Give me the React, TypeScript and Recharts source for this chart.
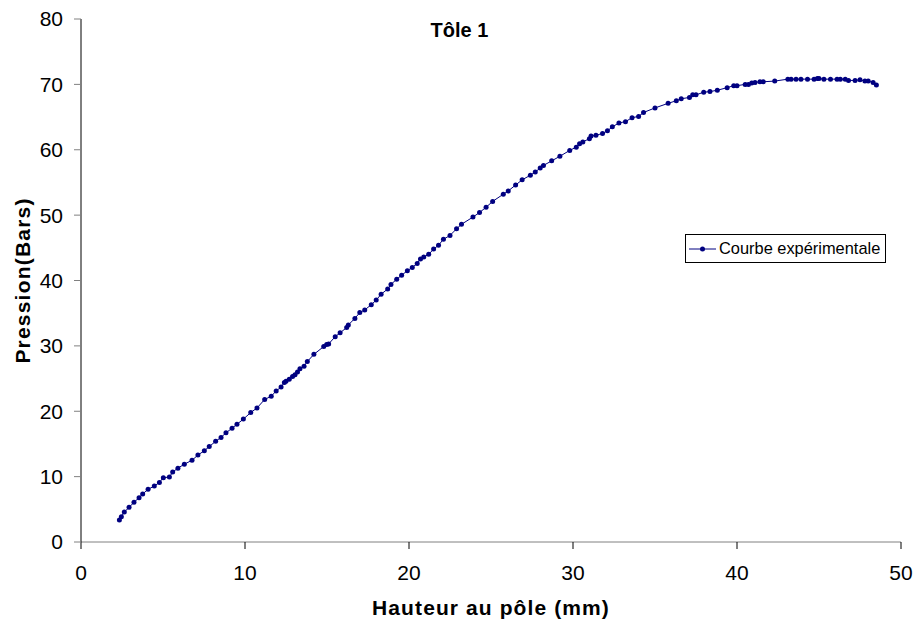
import { LineChart, Line, XAxis, YAxis, Legend } from 'recharts'

// Hauteur au pôle (mm)
const hauteur = [
  2.34, 2.46, 2.64, 2.93, 3.23, 3.54, 3.76, 4.09, 4.47, 4.78,
  5.02, 5.39, 5.59, 5.91, 6.3, 6.77, 7.13, 7.52, 7.82, 8.21,
  8.54, 8.84, 9.21, 9.51, 9.9, 10.35, 10.73, 11.2, 11.6, 11.9,
  12.2, 12.4, 12.5, 12.7, 12.9, 13.05, 13.2, 13.35, 13.6, 13.8,
  14.2, 14.8, 14.98, 15.1, 15.5, 15.8, 16.2, 16.3, 16.7, 17.0,
  17.3, 17.7, 18.0, 18.3, 18.7, 18.9, 19.25, 19.55, 19.9, 20.2,
  20.5, 20.7, 20.9, 21.2, 21.5, 21.8, 22.1, 22.5, 22.9, 23.2,
  23.9, 24.3, 24.7, 25.1, 25.75, 26.05, 26.5, 26.9, 27.4, 27.7,
  28.0, 28.2, 28.7, 29.2, 29.8, 30.2, 30.4, 30.6, 31.0, 31.1,
  31.4, 31.8, 32.1, 32.4, 32.8, 33.2, 33.6, 34.0, 34.3, 35.0,
  35.8, 36.3, 36.6, 37.1, 37.3, 37.5, 37.97, 38.35, 38.8, 39.4,
  39.8, 40.0, 40.5, 40.7, 40.9, 41.1, 41.4, 41.6, 42.3, 43.1,
  43.3, 43.6, 43.9, 44.3, 44.7, 44.9, 45.0, 45.3, 45.7, 46.1,
  46.3, 46.6, 46.8, 47.2, 47.5, 47.8, 48.0, 48.3, 48.5,
]

// Pression (Bars)
const pression = [
  3.36, 3.87, 4.59, 5.3, 6.07, 6.78, 7.34, 8.06, 8.56, 9.12,
  9.83, 9.94, 10.7, 11.3, 11.9, 12.5, 13.3, 13.96, 14.6, 15.4,
  16.0, 16.7, 17.4, 18.0, 18.8, 19.8, 20.5, 21.8, 22.3, 23.1,
  23.7, 24.4, 24.6, 24.9, 25.3, 25.6, 26.0, 26.5, 26.9, 27.6,
  28.7, 29.9, 30.2, 30.3, 31.4, 32.0, 32.8, 33.2, 34.2, 35.1,
  35.5, 36.3, 37.0, 37.9, 38.7, 39.4, 40.2, 40.8, 41.5, 42.0,
  42.6, 43.3, 43.6, 44.0, 44.8, 45.4, 46.3, 46.9, 47.9, 48.6,
  49.7, 50.4, 51.2, 52.1, 53.2, 53.7, 54.6, 55.4, 56.1, 56.6,
  57.2, 57.6, 58.3, 59.0, 59.9, 60.4, 60.9, 61.2, 61.7, 62.1,
  62.2, 62.5, 62.9, 63.5, 64.1, 64.3, 64.9, 65.1, 65.7, 66.4,
  67.1, 67.5, 67.8, 68.0, 68.4, 68.4, 68.8, 68.9, 69.1, 69.5,
  69.8, 69.8, 70.0, 70.0, 70.2, 70.3, 70.4, 70.4, 70.5, 70.8,
  70.8, 70.8, 70.8, 70.8, 70.8, 70.9, 70.9, 70.8, 70.8, 70.8,
  70.8, 70.8, 70.6, 70.6, 70.7, 70.5, 70.5, 70.3, 69.9,
]

const xTicks = [0, 10, 20, 30, 40, 50]
const yTicks = [0, 10, 20, 30, 40, 50, 60, 70, 80]

const NAVY = '#000080'
const FONT = '"Liberation Sans", Arial, sans-serif'

const data = hauteur.map((h, i) => ({ x: h, y: pression[i] }))

const renderLegend = () => (
  <div
    style={{
      border: '1px solid #000',
      background: '#fff',
      padding: '4px 5px 4px 3px',
      display: 'flex',
      alignItems: 'center',
      fontFamily: FONT,
      fontSize: 16.4,
      color: '#000',
      whiteSpace: 'nowrap',
    }}
  >
    <svg width={27} height={10}>
      <line x1={0} y1={5} x2={27} y2={5} stroke={NAVY} strokeWidth={1} />
      <circle cx={13.5} cy={5} r={2.5} fill={NAVY} />
    </svg>
    <span style={{ marginLeft: 3 }}>Courbe expérimentale</span>
  </div>
)

export default function App() {
  return (
    <div style={{ position: 'absolute', left: 0, top: 0, width: 919, height: 624, background: '#fff' }}>
      <div
        style={{
          position: 'absolute',
          left: 0,
          top: 20,
          width: 919,
          textAlign: 'center',
          fontFamily: FONT,
          fontWeight: 'bold',
          fontSize: 20,
          lineHeight: '20px',
          color: '#000',
          zIndex: 2,
        }}
      >
        Tôle 1
      </div>
      <LineChart
        width={919}
        height={624}
        data={data}
        margin={{ top: 19, right: 18, bottom: 0, left: 0 }}
        style={{ fontFamily: FONT }}
      >
        <XAxis
          type="number"
          dataKey="x"
          domain={[0, 50]}
          ticks={xTicks}
          height={82}
          tickSize={7}
          tickMargin={16}
          axisLine={{ stroke: '#808080' }}
          tickLine={{ stroke: '#000' }}
          tick={{ fill: '#000', fontSize: 21 }}
          label={{
            value: 'Hauteur au pôle (mm)',
            position: 'insideBottom',
            offset: 9,
            style: { fontWeight: 'bold', fontSize: 21, fill: '#000', letterSpacing: 1.1 },
          }}
        />
        <YAxis
          type="number"
          domain={[0, 80]}
          ticks={yTicks}
          width={81}
          tickSize={7}
          tickMargin={11}
          axisLine={{ stroke: '#000' }}
          tickLine={{ stroke: '#808080' }}
          tick={{ fill: '#000', fontSize: 21 }}
          label={{
            value: 'Pression(Bars)',
            angle: -90,
            position: 'insideLeft',
            offset: 23,
            style: { textAnchor: 'middle', fontWeight: 'bold', fontSize: 21, fill: '#000', letterSpacing: 1.2 },
          }}
        />
        <Legend
          layout="vertical"
          align="center"
          verticalAlign="middle"
          content={renderLegend}
          wrapperStyle={{ left: 685, top: 234, width: 'auto' }}
        />
        <Line
          type="linear"
          dataKey="y"
          name="Courbe expérimentale"
          stroke={NAVY}
          strokeWidth={1}
          dot={{ r: 2.5, fill: NAVY, stroke: NAVY, strokeWidth: 0 }}
          activeDot={false}
          isAnimationActive={false}
        />
      </LineChart>
    </div>
  )
}
